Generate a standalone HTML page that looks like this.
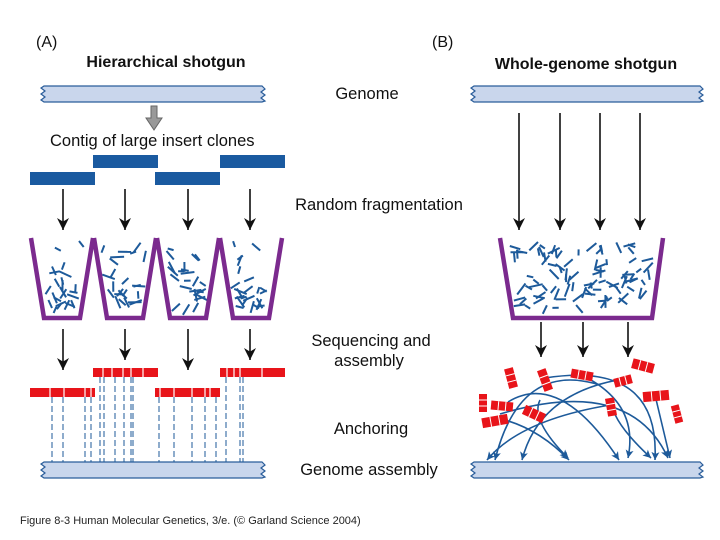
<!DOCTYPE html>
<html><head><meta charset="utf-8"><style>
html,body{margin:0;padding:0;background:#fff;}
svg{display:block;}
text{font-family:"Liberation Sans",Arial,sans-serif;fill:#111;}
.b{font-weight:bold;font-size:16px;}
.m{font-size:16.5px;}
</style></head><body>
<svg id="s" width="720" height="540" viewBox="0 0 720 540" xmlns="http://www.w3.org/2000/svg">
<defs>
<marker id="ah" markerWidth="12" markerHeight="12" refX="10" refY="5" orient="auto" markerUnits="userSpaceOnUse" viewBox="0 0 10 10">
<path d="M0,0 L10,5 L0,10 L3,5 Z" fill="#111"/></marker>
<marker id="bh" markerWidth="9" markerHeight="9" refX="8" refY="4" orient="auto" markerUnits="userSpaceOnUse">
<path d="M0,0 L8,4 L0,8 L2,4 Z" fill="#1d5a9a"/></marker>
</defs>
<rect width="720" height="540" fill="#fff"/>
<text x="36" y="47" style="font-size:16px">(A)</text>
<text x="432" y="47" style="font-size:16px">(B)</text>
<text class="b" x="166" y="67" text-anchor="middle">Hierarchical shotgun</text>
<text class="b" x="586" y="69" text-anchor="middle">Whole-genome shotgun</text>
<text class="m" x="367" y="99" text-anchor="middle">Genome</text>
<text class="m" x="379" y="210" text-anchor="middle">Random fragmentation</text>
<text class="m" x="371" y="346" text-anchor="middle">Sequencing and</text>
<text class="m" x="369" y="366" text-anchor="middle">assembly</text>
<text class="m" x="371" y="434" text-anchor="middle">Anchoring</text>
<text class="m" x="369" y="475" text-anchor="middle">Genome assembly</text>
<text class="m" x="50" y="146">Contig of large insert clones</text>
<text x="20" y="524" style="font-size:11px;fill:#222">Figure 8-3  Human Molecular Genetics, 3/e.  (© Garland Science 2004)</text>

<g id="genomes" fill="#c9d6ec" stroke="#2a5d9a" stroke-width="1.2"></g>
<path d="M151,106 h6 v12 h5 l-8,12 l-8,-12 h5 z" fill="#999" stroke="#666" stroke-width="1"/>
<g fill="#1a5aa0">
<rect x="93" y="155" width="65" height="13"/><rect x="220" y="155" width="65" height="13"/>
<rect x="30" y="172" width="65" height="13"/><rect x="155" y="172" width="65" height="13"/>
</g>
<g stroke="#111" stroke-width="1.6" marker-end="url(#ah)">
<line x1="63" y1="189" x2="63" y2="230"/><line x1="125" y1="189" x2="125" y2="230"/>
<line x1="188" y1="189" x2="188" y2="230"/><line x1="250" y1="189" x2="250" y2="230"/>
<line x1="519" y1="113" x2="519" y2="230"/><line x1="560" y1="113" x2="560" y2="230"/>
<line x1="600" y1="113" x2="600" y2="230"/><line x1="640" y1="113" x2="640" y2="230"/>
<line x1="63" y1="329" x2="63" y2="370"/><line x1="125" y1="329" x2="125" y2="360"/>
<line x1="188" y1="329" x2="188" y2="370"/><line x1="250" y1="329" x2="250" y2="360"/>
<line x1="541" y1="322" x2="541" y2="357"/><line x1="583" y1="322" x2="583" y2="357"/>
<line x1="628" y1="322" x2="628" y2="357"/>
</g>
<g id="frag" stroke="#1d5a9a" stroke-width="2"></g>
<g fill="none" stroke="#7b2a8e" stroke-width="4.5" stroke-linejoin="miter">
<path d="M31,238 L44,318 L80,318 L93,238"/>
<path d="M94,238 L107,318 L143,318 L156,238"/>
<path d="M157,238 L170,318 L206,318 L219,238"/>
<path d="M220,238 L233,318 L269,318 L282,238"/>
<path d="M500,238 L513,318 L652,318 L663,238"/>
</g>
<g stroke="#1d5a9a" stroke-width="1" stroke-dasharray="6,3" id="dash"></g>
<g fill="#e8141a">
<rect x="30" y="388" width="65" height="9"/><rect x="155" y="388" width="65" height="9"/>
<rect x="93" y="368" width="65" height="9"/><rect x="220" y="368" width="65" height="9"/>
</g>
<g stroke="#fff" stroke-width="1.2" id="gaps"></g>
<g id="curves" fill="none" stroke="#1d5a9a" stroke-width="1.6"></g>
<g id="reds"></g>
</svg>
<script>
var NS="http://www.w3.org/2000/svg";
function el(p,t,a){var e=document.createElementNS(NS,t);for(var k in a)e.setAttribute(k,a[k]);document.getElementById(p).appendChild(e);return e;}
function genome(x,y,w){
 var d="M"+x+","+y+" H"+(x+w);
 d+=" l3,3 l-4,3 l4,3 l-4,3 l4,3 l-3,1";
 d+=" H"+x+" l-3,-2 l4,-3 l-4,-3 l4,-3 l-4,-3 l3,-2 z";
 el("genomes","path",{d:d});
}
genome(44,86,218);genome(474,86,226);genome(44,462,218);genome(474,462,226);
var seed=7;function r(){seed=(seed*16807)%2147483647;return (seed-1)/2147483646;}
function fill(x0,x1,b0,b1,n){
 for(var i=0;i<n;i++){var y=244+r()*66;var t=(y-238)/80;
  var l=x0+(b0-x0)*t+7,rr=x1+(b1-x1)*t-7;var x=l+r()*(rr-l);
  var a=r()*Math.PI,L=6+r()*8;
  el("frag","line",{x1:(x-Math.cos(a)*L/2).toFixed(1),y1:(y-Math.sin(a)*L/2).toFixed(1),x2:(x+Math.cos(a)*L/2).toFixed(1),y2:(y+Math.sin(a)*L/2).toFixed(1)});}
}
[31,94,157,220].forEach(function(x){fill(x,x+62,x+13,x+49,24);});
fill(500,663,513,652,95);
[52,63,85,91,100,104,115,124,131,133,159,174,192,205,216,226,240,243].forEach(function(x){
 var y=(x>=93&&x<158)||(x>=220)?377:397;el("dash","line",{x1:x,y1:y,x2:x,y2:462});});
[[50,388],[64,388],[85,388],[91,388],[103,368],[112,368],[123,368],[131,368],[143,368],[160,388],[174,388],[192,388],[205,388],[227,368],[234,368],[240,368],[262,368],[210,388]].forEach(function(p){
 el("gaps","line",{x1:p[0],y1:p[1],x2:p[0],y2:p[1]+9});});
var cv=[[500,414,630,375,668,458],[508,402,560,370,619,460],[545,378,660,360,655,460],[575,372,640,400,628,458],[600,385,520,360,495,460],[610,405,520,420,487,460],[630,378,540,390,522,460],[540,400,530,420,568,458],[505,420,540,430,569,460],[612,400,610,420,651,458]];
cv.forEach(function(c){el("curves","path",{d:"M"+c[0]+","+c[1]+" Q"+c[2]+","+c[3]+" "+c[4]+","+c[5],"marker-end":"url(#bh)"});});
el("curves","path",{d:"M655,395 L670,458","marker-end":"url(#bh)"});
var rd=[[511,378,20,9,75],[545,380,22,9,70],[582,375,22,9,10],[643,366,22,10,15],[623,381,18,9,-15],[656,396,26,10,-5],[483,403,18,8,90],[502,406,22,9,5],[495,421,26,10,-10],[534,414,22,10,25],[611,407,18,9,80],[677,414,18,8,75]];
rd.forEach(function(p){var g=el("reds","g",{transform:"translate("+p[0]+","+p[1]+") rotate("+p[4]+")"});
 var w=p[2],h=p[3];var R=document.createElementNS(NS,"rect");R.setAttribute("x",-w/2);R.setAttribute("y",-h/2);R.setAttribute("width",w);R.setAttribute("height",h);R.setAttribute("fill","#e8141a");g.appendChild(R);
 for(var k=1;k<3;k++){var L=document.createElementNS(NS,"line");var xx=-w/2+w*k/3;L.setAttribute("x1",xx);L.setAttribute("x2",xx);L.setAttribute("y1",-h/2);L.setAttribute("y2",h/2);L.setAttribute("stroke","#fff");L.setAttribute("stroke-width","1");g.appendChild(L);}
});
</script>
</body></html>
